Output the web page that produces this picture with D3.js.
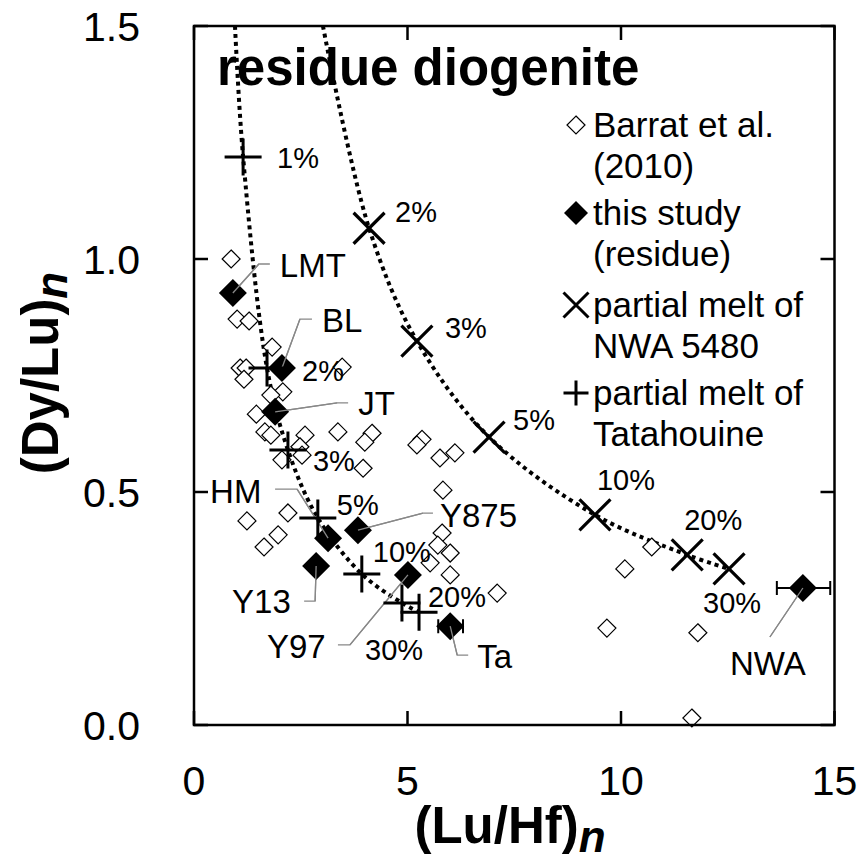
<!DOCTYPE html>
<html>
<head>
<meta charset="utf-8">
<script src="https://cdn.jsdelivr.net/npm/d3@7"></script>
<style>
  body { margin: 0; background: #fff; }
  text { font-family: "Liberation Sans", Arial, sans-serif; fill: #000; }
</style>
</head>
<body>
<div id="chart"></div>
<script>
// Barrat et al. (2010) diogenites: (Lu/Hf)n and (Dy/Lu)n
const barratLuHf = [0.87, 1.01, 1.29, 1.83, 1.08, 1.22, 1.17, 3.47, 2.08, 1.80, 1.46, 1.66, 1.80,
  2.60, 2.48, 2.06, 2.53, 3.37, 4.17, 4.00, 3.96, 1.24, 2.20, 1.97, 1.64,
  5.34, 5.22, 5.76, 6.11, 5.83, 5.81, 5.71, 6.00, 5.53, 6.00, 7.10,
  10.72, 10.09, 9.67, 11.80, 11.66];
const barratDyLu = [1.000, 0.871, 0.867, 0.811, 0.766, 0.766, 0.742, 0.768, 0.715, 0.708, 0.667, 0.629, 0.622,
  0.622, 0.597, 0.569, 0.579, 0.629, 0.626, 0.607, 0.551, 0.438, 0.455, 0.408, 0.382,
  0.613, 0.601, 0.573, 0.584, 0.504, 0.412, 0.386, 0.369, 0.348, 0.322, 0.283,
  0.382, 0.335, 0.208, 0.198, 0.015];

// this study (residue)
const residueNames = ["LMT", "BL", "JT", "HM", "Y875", "Y13", "Y97", "Ta", "NWA"];
const residueLuHf = [0.91, 2.06, 1.90, 3.14, 3.84, 2.86, 5.01, 6.00, 14.26];
const residueDyLu = [0.927, 0.766, 0.672, 0.401, 0.418, 0.341, 0.322, 0.212, 0.294];
const residueLuHfLo = [null, null, null, null, null, null, null, 5.72, 13.65];
const residueLuHfHi = [null, null, null, null, null, null, null, 6.30, 14.90];

// partial melt of Tatahouine
const tatPct = ["1%", "2%", "3%", "5%", "10%", "20%", "30%"];
const tatLuHf = [1.15, 1.71, 2.20, 2.90, 3.93, 4.87, 5.27];
const tatDyLu = [1.219, 0.766, 0.590, 0.444, 0.324, 0.262, 0.242];
const tatCurveTop = [0.96, 1.5];

// partial melt of NWA 5480
const nwaPct = ["2%", "3%", "5%", "10%", "20%", "30%"];
const nwaLuHf = [4.10, 5.22, 6.91, 9.39, 11.55, 12.53];
const nwaDyLu = [1.066, 0.824, 0.618, 0.451, 0.365, 0.335];
const nwaCurveTop = [3.02, 1.5];

const xTicks = [0, 5, 10, 15];
const yTicks = [0, 0.5, 1.0, 1.5];
const yTickLabels = ["0.0", "0.5", "1.0", "1.5"];

// label placement (pixel offsets from the point)
const residueLabelPos = {
  LMT: {t: [47, -16], l: [[26, -29], [37, -29]]},
  BL: {t: [40, -36], l: [[18, -49], [30, -49]]},
  JT: {t: [83, 3], l: [[62, -9], [73, -9]]},
  HM: {t: [-118, -35], l: [[-31, -49], [-53, -49]]},
  Y875: {t: [82, -3], l: [[65, -17], [75, -17]]},
  Y13: {t: [-84, 47], l: [[-1, 35], [-12, 35]]},
  Y97: {t: [-141, 83], l: [[-58, 70], [-70, 70]]},
  Ta: {t: [27, 42], l: [[7, 29], [18, 29]]},
  NWA: {t: [-73, 87], l: [[-33, 49]]}
};
const tatLabelPos = [[34, 11], [35, 13], [25, 21], [19, -3], [11, -12], [26, 4], [-54, 48]];
const nwaLabelPos = [[26, -6], [28, -3], [24, -7], [2, -25], [-3, -25], [-26, 44]];

const W = 865, H = 864;
const plot = {left: 194, right: 834.5, top: 26, bottom: 725};

const svg = d3.select("#chart").append("svg")
  .attr("width", W).attr("height", H);

const x = d3.scaleLinear().domain([0, 15]).range([plot.left, plot.right]);
const y = d3.scaleLinear().domain([0, 1.5]).range([plot.bottom, plot.top]);

function diamond(r) {
  return `M0,${-r}L${r},0L0,${r}L${-r},0Z`;
}
function plusPath(r) {
  return `M${-r},0H${r}M0,${-r}V${r}`;
}
function crossPath(r) {
  return `M${-r},${-r}L${r},${r}M${-r},${r}L${r},${-r}`;
}

const g = svg.append("g");

// model curves
const line = d3.line().x(d => x(d[0])).y(d => y(d[1])).curve(d3.curveCatmullRom.alpha(0.5));
const tatCurve = [tatCurveTop].concat(tatLuHf.map((v, i) => [v, tatDyLu[i]]));
const nwaCurve = [nwaCurveTop].concat(nwaLuHf.map((v, i) => [v, nwaDyLu[i]]));
[tatCurve, nwaCurve].forEach(c => {
  g.append("path").attr("d", line(c))
    .attr("fill", "none").attr("stroke", "#000")
    .attr("stroke-width", 4).attr("stroke-dasharray", "4,4");
});

// Barrat et al. open diamonds
g.selectAll(".barrat").data(barratLuHf).enter().append("path")
  .attr("transform", (d, i) => `translate(${x(d)},${y(barratDyLu[i])})`)
  .attr("d", diamond(9))
  .attr("fill", "#fff").attr("stroke", "#000").attr("stroke-width", 1.2);

// leader lines
residueNames.forEach((n, i) => {
  const px = x(residueLuHf[i]), py = y(residueDyLu[i]);
  const pos = residueLabelPos[n];
  const pts = [[px, py]].concat(pos.l.map(p => [px + p[0], py + p[1]]));
  g.append("path").attr("d", d3.line()(pts))
    .attr("fill", "none").attr("stroke", "#888").attr("stroke-width", 1.3);
});

// error bars
residueNames.forEach((n, i) => {
  if (residueLuHfLo[i] == null) return;
  const py = y(residueDyLu[i]);
  const x0 = x(residueLuHfLo[i]), x1 = x(residueLuHfHi[i]);
  g.append("path")
    .attr("d", `M${x0},${py}H${x1}M${x0},${py - 7}V${py + 7}M${x1},${py - 7}V${py + 7}`)
    .attr("stroke", "#000").attr("stroke-width", 2).attr("fill", "none");
});

// residue filled diamonds
g.selectAll(".res").data(residueLuHf).enter().append("path")
  .attr("transform", (d, i) => `translate(${x(d)},${y(residueDyLu[i])})`)
  .attr("d", diamond(14)).attr("fill", "#000");

// leader start drawn again over the diamonds
residueNames.forEach((n, i) => {
  const px = x(residueLuHf[i]), py = y(residueDyLu[i]);
  const p = residueLabelPos[n].l[0];
  g.append("line").attr("x1", px).attr("y1", py).attr("x2", px + p[0]).attr("y2", py + p[1])
    .attr("stroke", "#888").attr("stroke-width", 1.3);
});

// melt markers
tatLuHf.forEach((v, i) => {
  g.append("path").attr("transform", `translate(${x(v)},${y(tatDyLu[i])})`)
    .attr("d", plusPath(18.5)).attr("stroke", "#000").attr("stroke-width", 3).attr("fill", "none");
});
nwaLuHf.forEach((v, i) => {
  g.append("path").attr("transform", `translate(${x(v)},${y(nwaDyLu[i])})`)
    .attr("d", crossPath(15.5)).attr("stroke", "#000").attr("stroke-width", 3.2).attr("fill", "none");
});

// percent labels
tatPct.forEach((t, i) => {
  g.append("text").attr("x", x(tatLuHf[i]) + tatLabelPos[i][0]).attr("y", y(tatDyLu[i]) + tatLabelPos[i][1])
    .attr("font-size", 29).text(t);
});
nwaPct.forEach((t, i) => {
  g.append("text").attr("x", x(nwaLuHf[i]) + nwaLabelPos[i][0]).attr("y", y(nwaDyLu[i]) + nwaLabelPos[i][1])
    .attr("font-size", 29).text(t);
});

// residue labels
residueNames.forEach((n, i) => {
  const pos = residueLabelPos[n];
  g.append("text").attr("x", x(residueLuHf[i]) + pos.t[0]).attr("y", y(residueDyLu[i]) + pos.t[1])
    .attr("font-size", 33).text(n);
});

// frame and ticks
svg.append("rect").attr("x", plot.left).attr("y", plot.top)
  .attr("width", plot.right - plot.left).attr("height", plot.bottom - plot.top)
  .attr("fill", "none").attr("stroke", "#000").attr("stroke-width", 2.5);

const tickLen = 14;
xTicks.forEach(t => {
  svg.append("line").attr("x1", x(t)).attr("x2", x(t)).attr("y1", plot.bottom).attr("y2", plot.bottom - tickLen)
    .attr("stroke", "#000").attr("stroke-width", 2.5);
  svg.append("line").attr("x1", x(t)).attr("x2", x(t)).attr("y1", plot.top).attr("y2", plot.top + tickLen)
    .attr("stroke", "#000").attr("stroke-width", 2.5);
  svg.append("text").attr("x", x(t)).attr("y", 795).attr("text-anchor", "middle")
    .attr("font-size", 41).text(t);
});
yTicks.forEach((t, i) => {
  svg.append("line").attr("y1", y(t)).attr("y2", y(t)).attr("x1", plot.left).attr("x2", plot.left + tickLen)
    .attr("stroke", "#000").attr("stroke-width", 2.5);
  svg.append("line").attr("y1", y(t)).attr("y2", y(t)).attr("x1", plot.right).attr("x2", plot.right - tickLen)
    .attr("stroke", "#000").attr("stroke-width", 2.5);
  svg.append("text").attr("x", 140).attr("y", y(t) + 15).attr("text-anchor", "end")
    .attr("font-size", 41).text(yTickLabels[i]);
});

// axis titles
const xt = svg.append("text").attr("x", 510).attr("y", 843).attr("text-anchor", "middle")
  .attr("font-size", 51).attr("font-weight", "bold");
xt.append("tspan").text("(Lu/Hf)");
xt.append("tspan").attr("font-style", "italic").attr("dy", 9).attr("font-size", 44).text("n");

const yt = svg.append("text").attr("transform", "translate(58,373) rotate(-90)").attr("text-anchor", "middle")
  .attr("font-size", 51).attr("font-weight", "bold");
yt.append("tspan").text("(Dy/Lu)");
yt.append("tspan").attr("font-style", "italic").attr("dy", 9).attr("font-size", 44).text("n");

// panel title
svg.append("text").attr("x", 217).attr("y", 85).attr("font-size", 51).attr("font-weight", "bold")
  .text("residue diogenite");

// legend
const legend = [
  {sym: "open", lines: ["Barrat et al.", "(2010)"], y: 137},
  {sym: "filled", lines: ["this study", "(residue)"], y: 225},
  {sym: "cross", lines: ["partial melt of", "NWA 5480"], y: 317},
  {sym: "plus", lines: ["partial melt of", "Tatahouine"], y: 405}
];
const lg = svg.append("g");
legend.forEach(e => {
  const sx = 576, sy = e.y - 12;
  const s = lg.append("path").attr("transform", `translate(${sx},${sy})`);
  if (e.sym === "open") s.attr("d", diamond(9)).attr("fill", "#fff").attr("stroke", "#000").attr("stroke-width", 1.2);
  if (e.sym === "filled") s.attr("d", diamond(12)).attr("fill", "#000");
  if (e.sym === "cross") s.attr("d", crossPath(12.5)).attr("stroke", "#000").attr("stroke-width", 3).attr("fill", "none");
  if (e.sym === "plus") s.attr("d", plusPath(12.5)).attr("stroke", "#000").attr("stroke-width", 3).attr("fill", "none");
  e.lines.forEach((l, k) => {
    lg.append("text").attr("x", 593).attr("y", e.y + k * 41).attr("font-size", 35).text(l);
  });
});
</script>
</body>
</html>
